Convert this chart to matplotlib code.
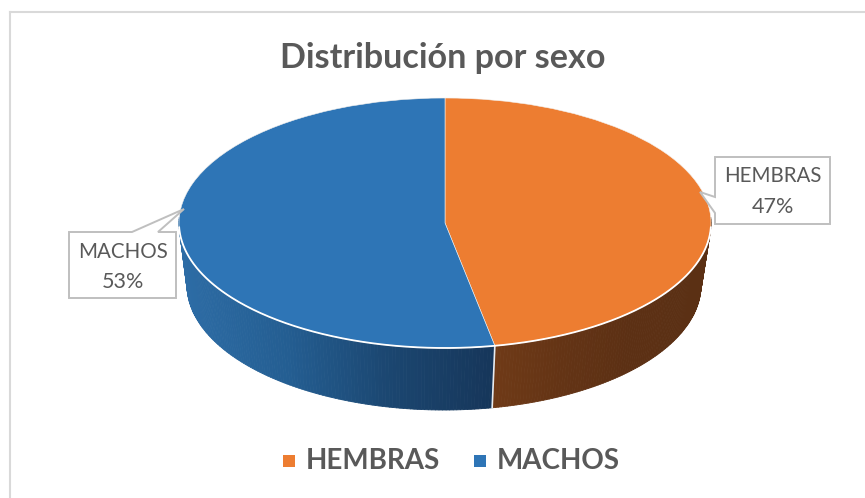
import numpy as np
import matplotlib
matplotlib.use("Agg")
import matplotlib.pyplot as plt
from matplotlib.collections import PolyCollection
from matplotlib.colors import LinearSegmentedColormap
from matplotlib.patches import Polygon, Rectangle

W, H = 865, 498
categories = ["HEMBRAS", "MACHOS"]
percent = [47, 53]
colors = ["#ED7D31", "#2E75B6"]
title = "Distribución por sexo"
TEXT = "#595959"
FONT = ["Lato", "DejaVu Sans"]

fig = plt.figure(figsize=(W / 100, H / 100), dpi=100)
ax = fig.add_axes([0, 0, 1, 1])
ax.axis("off")

# Top ellipse geometry in pixels
cx, cy, rx, ry = 445.0, 223.0, 266.0, 125.0
# Bottom ellipse (perspective narrows it slightly)
bcx, bcy, brx, bry = 444.0, 285.0, 257.0, 125.0

# pie: radius 1 data-unit -> ellipse through non-equal scaling
ax.set_xlim((0 - cx) / rx, (W - cx) / rx)
ax.set_ylim((cy - H) / ry, cy / ry)


def px(x, y):
    return (x - cx) / rx, (cy - y) / ry


fracs = np.array(percent, float) / sum(percent)
edges = np.concatenate([[0], np.cumsum(fracs)])
side_maps = [
    LinearSegmentedColormap.from_list("o", ["#5B3014", "#5C3014", "#643415", "#6F3A17"]),
    LinearSegmentedColormap.from_list("b", ["#16365A", "#1B4670", "#245E92", "#2D6CA5"]),
]

for i in range(len(percent)):
    a0 = 2 * np.pi * edges[i]
    a1 = 2 * np.pi * edges[i + 1]
    ang = np.linspace(a0, a1, 241)
    polys, cvals = [], []
    for u, v in zip(ang[:-1], ang[1:]):
        if np.cos((u + v) / 2) > 0.05:  # back half is hidden
            continue
        p = [
            px(cx + rx * np.sin(u), cy - ry * np.cos(u)),
            px(cx + rx * np.sin(v), cy - ry * np.cos(v)),
            px(bcx + brx * np.sin(v), bcy - bry * np.cos(v)),
            px(bcx + brx * np.sin(u), bcy - bry * np.cos(u)),
        ]
        polys.append(p)
        xm = cx + rx * np.sin((u + v) / 2)
        if i == 0:
            cvals.append(np.clip((700 - xm) / (700 - 495), 0, 1))
        else:
            cvals.append(np.clip((495 - xm) / (495 - 180), 0, 1))
    coll = PolyCollection(polys, array=np.array(cvals), cmap=side_maps[i],
                          clim=(0, 1), edgecolors="face", linewidths=0.6, zorder=1)
    ax.add_collection(coll)

# seam between the two sides at the front
u = 2 * np.pi * edges[1]
ax.plot(*zip(px(cx + rx * np.sin(u), cy - ry * np.cos(u)),
             px(bcx + brx * np.sin(u), bcy - bry * np.cos(u))),
        color="#E8ECF0", lw=1.2, zorder=2)

# Top surface
wedges, _ = ax.pie(percent, colors=colors, startangle=90, counterclock=False,
                   radius=1, center=(0, 0), frame=True,
                   wedgeprops=dict(edgecolor="#F4F1EE", linewidth=0.4, zorder=3))
ax.set_aspect("auto")
ax.set_xlim((0 - cx) / rx, (W - cx) / rx)
ax.set_ylim((cy - H) / ry, cy / ry)
ax.set_xticks([])
ax.set_yticks([])
ax.axis("off")
for w in wedges:
    w.set_zorder(3)

# White rim along the front of the top surface
t = np.radians(np.linspace(92, 268, 300))
ax.plot(np.sin(t), np.cos(t), color="white", lw=1.3, zorder=3.5)

# Chart frame
for xs, ys in [((10, 10), (12, 498)), ((10, 865), (12, 12))]:
    ax.plot(*zip(px(xs[0], ys[0]), px(xs[1], ys[1])), color="#D9D9D9", lw=1.5, zorder=0)

# Title
ax.text(*px(442.5, 58), title, ha="center", va="center", fontsize=24.6,
        fontweight="bold", color=TEXT, family=FONT)

# Callouts
BOX = "#BFBFBF"
mach = [(69, 232), (132, 232), (184, 209), (158, 232), (176, 232), (176, 298), (69, 298)]
hemb = [(715, 157), (830, 157), (830, 224), (715, 224), (715, 213), (700, 192), (715, 197)]
for pts in (mach, hemb):
    ax.add_patch(Polygon([px(*p) for p in pts], closed=True, fc="white", ec=BOX, lw=1.4, zorder=4))
ax.text(*px(122.5, 252), f"{categories[1]}", ha="center", va="center", fontsize=14.8,
        color=TEXT, family=FONT, zorder=5)
ax.text(*px(122.5, 282), f"{percent[1]}%", ha="center", va="center", fontsize=15.5,
        color=TEXT, family=FONT, zorder=5)
ax.text(*px(772.5, 176), f"{categories[0]}", ha="center", va="center", fontsize=14.8,
        color=TEXT, family=FONT, zorder=5)
ax.text(*px(772.5, 207), f"{percent[0]}%", ha="center", va="center", fontsize=15.5,
        color=TEXT, family=FONT, zorder=5)

# Legend
for (mx, tx), c, lab in zip([(283, 306), (474, 497)], colors, categories):
    x0, y1 = px(mx, 467)
    x1, y0 = px(mx + 12, 455)
    ax.add_patch(Rectangle((x0, y1), x1 - x0, y0 - y1, fc=c, ec="none", zorder=4))
    ax.text(*px(tx, 461), lab, ha="left", va="center", fontsize=20,
            fontweight="bold", color=TEXT, family=FONT, zorder=5)

fig.savefig("out.png", dpi=100, facecolor="white")
